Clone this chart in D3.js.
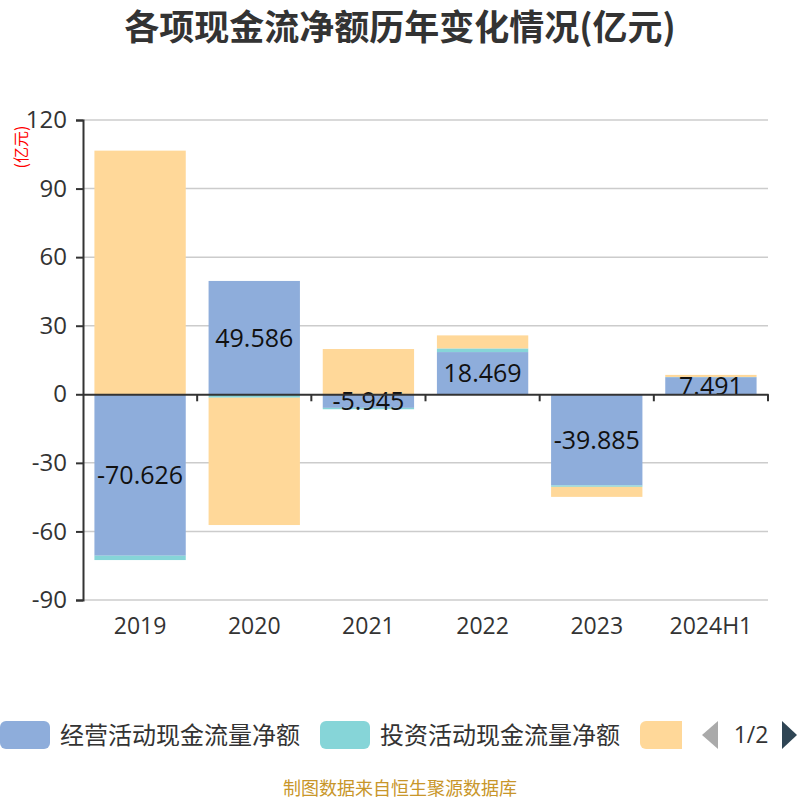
<!DOCTYPE html>
<html>
<head>
<meta charset="utf-8">
<title>各项现金流净额历年变化情况</title>
<style>
  body { margin: 0; background: #fff; }
  svg { font-family: "Noto Sans CJK SC", "Noto Sans", sans-serif; }
  .num { font-family: "Open Sans", "Noto Sans", sans-serif; }
  .grid line { stroke: #ccc; stroke-width: 1.5; }
  .axis path, .axis line { stroke: #333; stroke-width: 2; }
  .axis text { fill: #333; font-family: "Open Sans", "Noto Sans", sans-serif; }
</style>
</head>
<body>
<div id="chart"></div>
<script src="https://d3js.org/d3.v7.min.js"></script>
<script>
// data
var years = ["2019", "2020", "2021", "2022", "2023", "2024H1"];
var seriesNames = ["经营活动现金流量净额", "投资活动现金流量净额", "筹资活动现金流量净额"];
var operating = [-70.626, 49.586, -5.945, 18.469, -39.885, 7.491];
var investing = [-1.9, -1.5, -0.6, 1.6, -0.6, 0.1];
var financing = [106.6, -55.7, 19.8, 5.7, -4.4, 0.9];
var yTicks = [120, 90, 60, 30, 0, -30, -60, -90];
var colors = ["#8eaddb", "#86d5d8", "#ffd899"];

var W = 800, H = 800;
var margin = { top: 120, right: 32, bottom: 200, left: 83 };
var width = W - margin.left - margin.right;
var height = H - margin.top - margin.bottom;

var svg = d3.select("#chart").append("svg")
  .attr("width", W).attr("height", H);

// title
svg.append("text")
  .attr("x", W / 2).attr("y", 40)
  .attr("text-anchor", "middle")
  .style("font-size", "35px").style("font-weight", "bold").style("fill", "#333")
  .text("各项现金流净额历年变化情况(亿元)");

// unit label
svg.append("text")
  .attr("transform", "translate(21,147) rotate(-90)")
  .attr("text-anchor", "middle")
  .attr("dy", "0.36em")
  .style("font-size", "16px").style("fill", "red")
  .text("(亿元)");

var g = svg.append("g").attr("transform", "translate(" + margin.left + "," + margin.top + ")");

var x = d3.scaleBand().domain(years).range([0, width]).paddingInner(0.2).paddingOuter(0.1);
var xb = d3.scaleBand().domain(years).range([0, width]);
var y = d3.scaleLinear().domain([-90, 120]).range([height, 0]);

// gridlines
g.append("g").attr("class", "grid")
  .selectAll("line").data(yTicks.filter(function(d) { return d !== 0; }))
  .enter().append("line")
  .attr("x1", 0).attr("x2", width)
  .attr("y1", function(d) { return y(d); }).attr("y2", function(d) { return y(d); });

// stacked bars
var table = years.map(function(yr, i) {
  return { year: yr, s0: operating[i], s1: investing[i], s2: financing[i] };
});
var stack = d3.stack().keys(["s0", "s1", "s2"]).offset(d3.stackOffsetDiverging);
var layers = stack(table);

g.selectAll(".layer").data(layers).enter().append("g")
  .attr("class", "layer")
  .attr("fill", function(d, i) { return colors[i]; })
  .selectAll("rect").data(function(d) { return d; })
  .enter().append("rect")
  .attr("x", function(d) { return x(d.data.year); })
  .attr("width", x.bandwidth())
  .attr("y", function(d) { return y(Math.max(d[0], d[1])); })
  .attr("height", function(d) { return Math.abs(y(d[0]) - y(d[1])); });

// labels on operating series
g.selectAll(".lbl").data(layers[0]).enter().append("text")
  .attr("class", "lbl num")
  .attr("x", function(d) { return x(d.data.year) + x.bandwidth() / 2; })
  .attr("y", function(d) { return (y(d[0]) + y(d[1])) / 2; })
  .attr("dy", "0.36em")
  .attr("text-anchor", "middle")
  .style("font-size", "25px").style("fill", "#111")
  .text(function(d) { return d.data.s0.toFixed(3); });

// y axis
var yAxis = g.append("g").attr("class", "axis")
  .call(d3.axisLeft(y).tickValues(yTicks).tickSize(7).tickPadding(9)
    .tickFormat(function(d) { return String(d); }));
yAxis.selectAll("text").style("font-size", "24px");

// x axis at zero
var xAxis = g.append("g").attr("class", "axis")
  .attr("transform", "translate(0," + y(0) + ")")
  .call(d3.axisBottom(xb).tickSize(0).tickFormat(""));
xAxis.selectAll(".tick").remove();
xAxis.selectAll(".bt").data(years.slice(1).concat(["end"])).enter().append("line")
  .attr("x1", function(d, i) { return xb.step() * (i + 1); })
  .attr("x2", function(d, i) { return xb.step() * (i + 1); })
  .attr("y1", 0).attr("y2", 7);

g.selectAll(".xl").data(years).enter().append("text")
  .attr("class", "xl num")
  .attr("x", function(d) { return xb(d) + xb.bandwidth() / 2; })
  .attr("y", height + 34)
  .attr("text-anchor", "middle")
  .style("font-size", "23px").style("fill", "#333")
  .text(function(d) { return d; });

// legend
svg.append("clipPath").attr("id", "legclip")
  .append("rect").attr("x", 0).attr("y", 700).attr("width", 682).attr("height", 60);
var leg = svg.append("g").attr("clip-path", "url(#legclip)");
var legX = [0, 320, 640];
var items = leg.selectAll(".item").data(seriesNames).enter().append("g")
  .attr("transform", function(d, i) { return "translate(" + legX[i] + ",721)"; });
items.append("rect")
  .attr("width", 50).attr("height", 28).attr("rx", 6)
  .attr("fill", function(d, i) { return colors[i]; });
items.append("text")
  .attr("x", 60).attr("y", 14).attr("dy", "0.36em")
  .style("font-size", "24px").style("fill", "#333")
  .text(function(d) { return d; });

// legend pager
svg.append("path").attr("d", "M718,721 L702,735 L718,749 Z").attr("fill", "#aaa");
svg.append("text").attr("class", "num").attr("x", 751).attr("y", 735).attr("dy", "0.36em")
  .attr("text-anchor", "middle")
  .style("font-size", "23px").style("fill", "#333").text("1/2");
svg.append("path").attr("d", "M782,721 L797,735 L782,749 Z").attr("fill", "#2f4554");

// source
svg.append("text")
  .attr("x", W / 2).attr("y", 795)
  .attr("text-anchor", "middle")
  .style("font-size", "18px").style("fill", "#c8962a")
  .text("制图数据来自恒生聚源数据库");
</script>
</body>
</html>
